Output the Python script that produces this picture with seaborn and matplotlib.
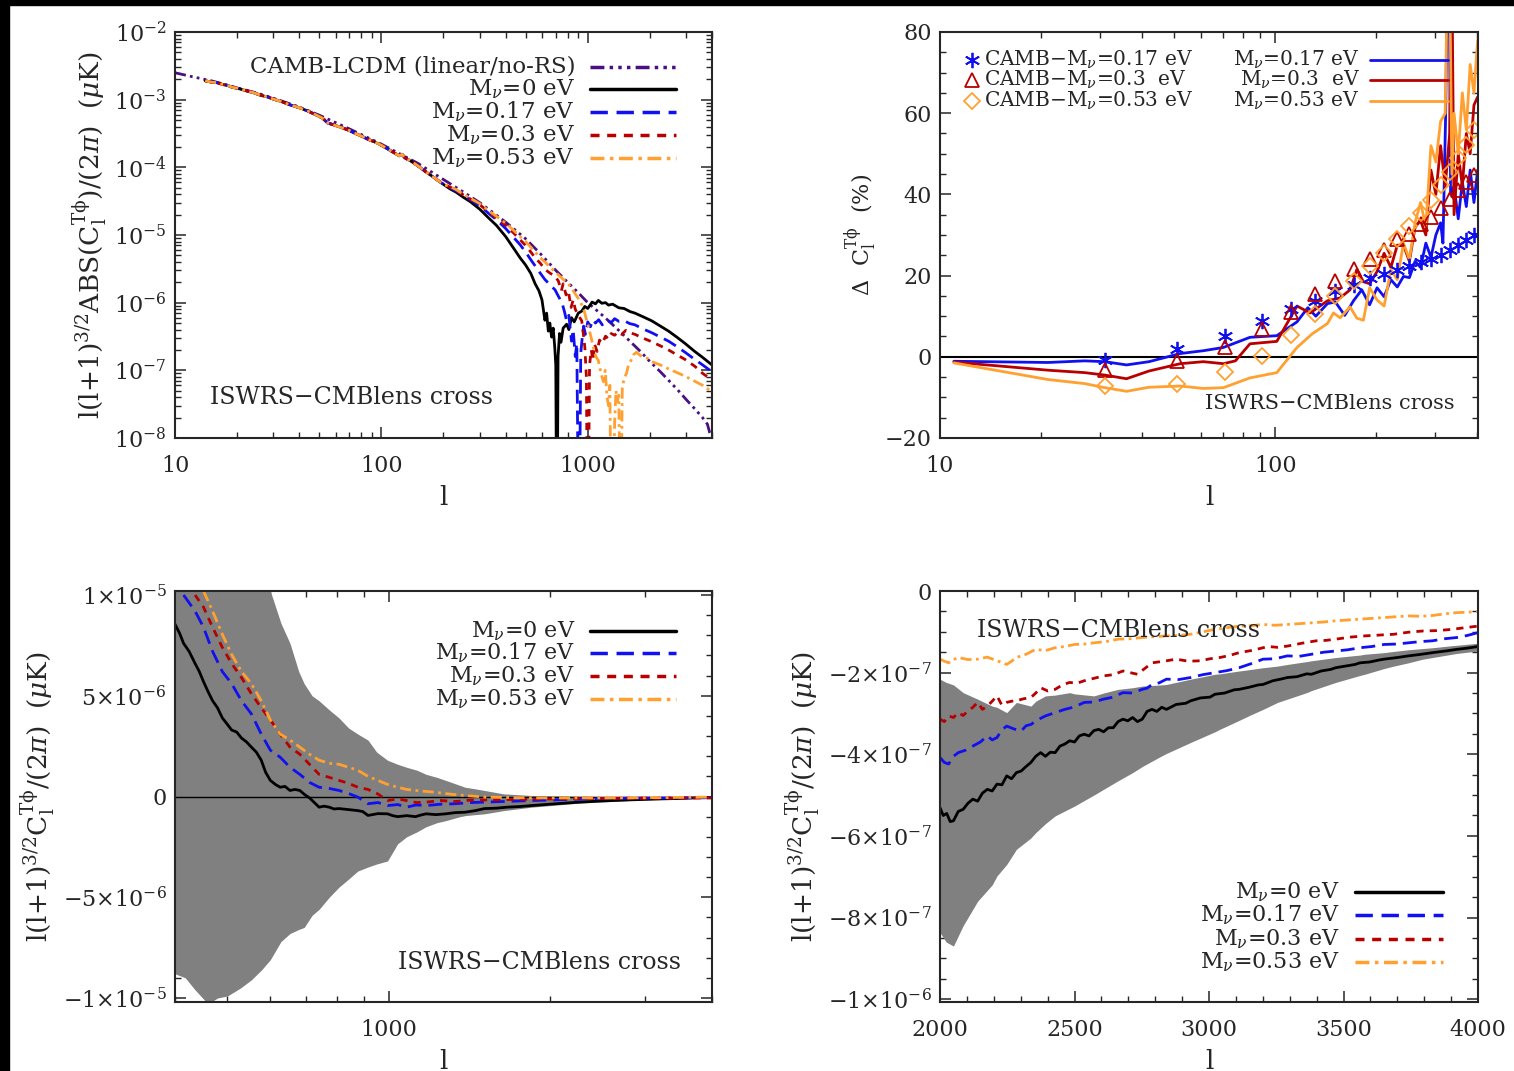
import matplotlib
matplotlib.use("Agg")
import matplotlib.pyplot as plt
import seaborn as sns
from matplotlib.lines import Line2D
from matplotlib.patches import Rectangle
from matplotlib.ticker import (FixedLocator, FixedFormatter, NullFormatter,
                               LogLocator, MultipleLocator, FuncFormatter)

# ------------------------------------------------------------------ data
series_labels = [r"M$_\nu$=0 eV", r"M$_\nu$=0.17 eV", r"M$_\nu$=0.3 eV", r"M$_\nu$=0.53 eV"]
camb_label = "CAMB-LCDM (linear/no-RS)"
annot_text = "ISWRS\u2212CMBlens cross"

# Panel A : |l(l+1)^{3/2} C_l| , log-log
camb_l = [10, 12, 15, 20, 25, 30, 40, 50, 70, 100, 150, 200, 250, 300, 400, 500, 600, 700,
          800, 900, 1000, 1200, 1400, 1600, 1800, 2000, 2250, 2500, 2750, 3000, 3300, 3600,
          3800, 3900, 4000]
camb_v = [2.5e-3, 2.2e-3, 1.9e-3, 1.5e-3, 1.25e-3, 1.05e-3, 7.8e-4, 5.9e-4, 3.7e-4, 2.2e-4,
          1.15e-4, 6.6e-5, 4.3e-5, 3.0e-5, 1.55e-5, 8.8e-6, 5.0e-6, 3.0e-6, 2.0e-6, 1.4e-6,
          1.0e-6, 6.2e-7, 4.0e-7, 2.7e-7, 1.9e-7, 1.35e-7, 9.5e-8, 6.8e-8, 5.0e-8, 3.7e-8,
          2.7e-8, 2.0e-8, 1.6e-8, 1.2e-8, 1.05e-8]

low_l = [14, 15, 16, 17, 18, 19, 20, 22, 24, 26, 28, 30, 33, 36, 40, 44, 48, 52, 55, 58, 62,
         66, 70, 75, 80, 86, 92, 100, 108, 116, 122, 126, 130, 138, 146, 155, 165, 175, 188, 200]
low_v = [1.9e-3, 1.82e-3, 1.78e-3, 1.68e-3, 1.62e-3, 1.52e-3, 1.48e-3, 1.36e-3, 1.27e-3,
         1.16e-3, 1.1e-3, 1.02e-3, 9.3e-4, 8.4e-4, 7.6e-4, 6.8e-4, 6.0e-4, 5.3e-4, 4.5e-4,
         4.3e-4, 4.0e-4, 3.75e-4, 3.5e-4, 3.15e-4, 2.9e-4, 2.6e-4, 2.4e-4, 2.12e-4, 1.85e-4,
         1.62e-4, 1.48e-4, 1.56e-4, 1.38e-4, 1.25e-4, 1.12e-4, 9.8e-5, 8.5e-5, 7.5e-5, 6.4e-5,
         5.6e-5]

m0_hi_l = [215, 230, 250, 270, 300, 330, 360, 400, 440, 470, 500, 530, 556, 580, 600, 620, 632,
           644, 655, 668, 680, 692, 700, 706, 712, 718, 730, 742, 760, 790, 810, 834, 860, 900,
           935, 968, 1000, 1050, 1090, 1125, 1170, 1220, 1261, 1320, 1414, 1500, 1600, 1694,
           1850, 2040, 2250, 2463, 2700, 2960, 3300, 3606, 4000]
m0_hi_v = [4.8e-5, 4.3e-5, 3.6e-5, 3.1e-5, 2.4e-5, 1.8e-5, 1.4e-5, 9.5e-6, 6.2e-6, 4.6e-6,
           3.6e-6, 2.7e-6, 1.9e-6, 1.5e-6, 1.1e-6, 5.5e-7, 7e-7, 3.8e-7, 5e-7, 3.1e-7, 4.2e-7,
           2.2e-7, 1.2e-7, 1e-9, 1e-9, 1.6e-7, 3.5e-7, 2.6e-7, 4.2e-7, 4.8e-7, 4e-7, 6e-7,
           5.2e-7, 7e-7, 7.5e-7, 8.8e-7, 8.2e-7, 1.02e-6, 9.6e-7, 1.08e-6, 9.8e-7, 1.0e-6,
           9.2e-7, 9.5e-7, 8.4e-7, 8.2e-7, 7.4e-7, 7e-7, 6.2e-7, 5.4e-7, 4.5e-7, 3.8e-7, 3.1e-7,
           2.5e-7, 1.9e-7, 1.55e-7, 1.2e-7]

m17_hi_l = [215, 230, 250, 270, 300, 330, 360, 400, 440, 470, 500, 530, 556, 590, 620, 660, 694,
            720, 750, 770, 790, 810, 834, 850, 870, 885, 900, 912, 925, 940, 955, 975, 1000,
            1030, 1060, 1090, 1130, 1176, 1240, 1300, 1350, 1414, 1500, 1600, 1694, 1850, 2040,
            2250, 2463, 2700, 2960, 3300, 3606, 4000]
m17_hi_v = [5e-5, 4.5e-5, 3.8e-5, 3.3e-5, 2.7e-5, 2.1e-5, 1.7e-5, 1.25e-5, 9e-6, 7.2e-6, 5.6e-6,
            4.3e-6, 3.5e-6, 2.7e-6, 2.2e-6, 1.8e-6, 1.55e-6, 1.25e-6, 1e-6, 7.5e-7, 5.4e-7,
            6.5e-7, 2.7e-7, 4e-7, 1.6e-7, 2.5e-7, 1e-9, 1e-9, 1.8e-7, 3e-7, 4.5e-7, 3.4e-7,
            5.2e-7, 4.4e-7, 5.6e-7, 5e-7, 5.6e-7, 4.7e-7, 5.5e-7, 5.1e-7, 5.8e-7, 5.3e-7,
            5.4e-7, 4.9e-7, 4.7e-7, 4.1e-7, 3.6e-7, 3.1e-7, 2.7e-7, 2.25e-7, 1.85e-7, 1.45e-7,
            1.2e-7, 9.5e-8]

m30_hi_l = [215, 230, 250, 270, 300, 330, 360, 400, 440, 470, 500, 530, 556, 590, 620, 660, 690,
            720, 745, 760, 785, 805, 830, 850, 870, 900, 935, 955, 968, 985, 995, 1008, 1020,
            1040, 1060, 1080, 1110, 1140, 1176, 1220, 1261, 1300, 1350, 1400, 1460, 1530, 1600,
            1694, 1850, 2040, 2250, 2463, 2700, 2960, 3300, 3606, 4000]
m30_hi_v = [5.1e-5, 4.6e-5, 3.9e-5, 3.4e-5, 2.8e-5, 2.2e-5, 1.8e-5, 1.4e-5, 1.05e-5, 8.5e-6,
            7e-6, 5.6e-6, 4.6e-6, 3.8e-6, 3.1e-6, 2.7e-6, 2.5e-6, 2.1e-6, 1.5e-6, 1.9e-6,
            1.3e-6, 1.5e-6, 8.5e-7, 1.1e-6, 8e-7, 6.5e-7, 5.4e-7, 3.2e-7, 2.2e-7, 8e-8, 1e-9,
            1e-9, 1.2e-7, 2e-7, 1.4e-7, 2.4e-7, 1.9e-7, 2.8e-7, 2.5e-7, 3.2e-7, 2.9e-7, 3.5e-7,
            3.3e-7, 3.7e-7, 3.4e-7, 3.9e-7, 3.6e-7, 3.4e-7, 3e-7, 2.65e-7, 2.3e-7, 2e-7, 1.7e-7,
            1.45e-7, 1.15e-7, 9e-8, 7.2e-8]

m53_hi_l = [215, 230, 250, 270, 300, 330, 360, 400, 440, 470, 500, 530, 556, 590, 620, 660, 700,
            750, 805, 850, 900, 950, 980, 1010, 1040, 1064, 1095, 1125, 1160, 1190, 1215, 1240,
            1261, 1280, 1295, 1325, 1350, 1370, 1390, 1414, 1435, 1450, 1470, 1500, 1540, 1575,
            1620, 1667, 1720, 1780, 1830, 1950, 2040, 2250, 2463, 2700, 2960, 3300, 3606, 4000]
m53_hi_v = [5.2e-5, 4.7e-5, 4e-5, 3.5e-5, 2.9e-5, 2.3e-5, 1.9e-5, 1.5e-5, 1.15e-5, 9.5e-6, 8e-6,
            6.6e-6, 5.6e-6, 4.6e-6, 4e-6, 3.3e-6, 2.8e-6, 2.3e-6, 1.9e-6, 1.5e-6, 1.15e-6,
            8.6e-7, 6e-7, 4.3e-7, 3e-7, 2.2e-7, 1.6e-7, 1.4e-7, 9e-8, 6.8e-8, 1e-7, 4e-8, 3e-8,
            6e-8, 1e-9, 1e-9, 1.7e-8, 5e-8, 3.5e-8, 4.3e-8, 1e-9, 1e-9, 5.5e-8, 7.6e-8, 9e-8,
            1.2e-7, 1.4e-7, 1.7e-7, 1.85e-7, 1.7e-7, 1.6e-7, 1.5e-7, 1.35e-7, 1.2e-7, 1.05e-7,
            9.3e-8, 8.2e-8, 6.9e-8, 6e-8, 4.8e-8]

# Panel B : Delta C_l (%)
camb_pts_l = [31, 51, 71, 91, 111, 131, 151, 171, 191, 211, 231, 251, 271, 291, 311, 331, 351,
              371, 391]
camb17_pct = [-0.7, 2.0, 5.2, 8.7, 11.7, 13.7, 16.3, 17.8, 19.4, 20.4, 21.3, 22.3, 23.3, 24.1,
              25.1, 26.3, 27.6, 28.8, 30.0]
camb30_pct = [-3.3, -1.1, 2.4, 6.8, 11.1, 15.4, 18.6, 21.7, 24.1, 26.2, 28.9, 30.2, 32.6, 34.5,
              36.7, 38.8, 41.0, 43.0, 44.9]
camb53_pct = [-7.2, -6.6, -3.7, 0.3, 5.4, 10.5, 15.0, 18.6, 22.3, 25.5, 29.0, 32.3, 35.5, 38.7,
              42.2, 45.4, 48.9, 52.2, 55.9]

d17_l = [11, 21, 27, 31, 36, 42, 52, 61, 70, 84, 101, 116, 125, 132, 143, 151, 161, 171, 181,
         191, 201, 211, 221, 231, 241, 251, 261, 271, 281, 291, 301, 311, 316, 322, 326, 330,
         333, 341, 351, 361, 371, 381, 391, 401]
d17_v = [-1.1, -1.4, -1.0, -1.2, -2.0, -1.2, 0.8, 1.5, 2.3, 4.8, 5.2, 8.6, 12.1, 10.0, 13.1,
         13.5, 10.2, 13.8, 16.5, 12.8, 17.0, 14.8, 19.0, 17.2, 19.8, 19.5, 23.5, 22.0, 28.0,
         24.5, 30.0, 33.0, 28.0, 60.0, 95.0, 95.0, 40.0, 42.0, 34.0, 43.0, 37.0, 46.0, 38.0,
         46.0]
d30_l = [11, 21, 27, 31, 36, 42, 52, 61, 70, 76, 84, 101, 116, 127, 143, 156, 167, 175, 183,
         191, 201, 211, 221, 231, 241, 251, 261, 271, 281, 291, 301, 311, 321, 331, 336, 341,
         351, 361, 371, 381, 391, 401]
d30_v = [-1.3, -3.3, -3.9, -4.5, -5.4, -3.5, -1.7, -1.2, -1.7, -1.0, 3.2, 3.8, 12.5, 10.8,
         13.8, 14.5, 16.5, 21.5, 18.5, 18.0, 21.0, 25.5, 22.0, 27.5, 27.5, 23.5, 32.0, 33.5,
         30.0, 46.0, 40.0, 52.0, 42.0, 55.0, 95.0, 35.0, 50.0, 42.0, 55.0, 50.0, 62.0, 64.0]
d53_l = [11, 21, 27, 31, 36, 42, 52, 61, 70, 84, 101, 116, 129, 143, 149, 156, 167, 175, 183,
         191, 201, 211, 221, 231, 241, 251, 261, 271, 281, 291, 301, 311, 321, 326, 331, 336,
         341, 351, 361, 371, 381, 391, 401]
d53_v = [-1.5, -5.6, -6.6, -7.6, -8.5, -7.5, -7.2, -7.8, -7.6, -5.2, -3.9, 2.3, 5.7, 8.2, 10.8,
         9.6, 12.3, 9.5, 9.0, 17.0, 14.0, 12.5, 21.5, 19.0, 28.0, 24.0, 33.0, 38.0, 32.0, 52.0,
         48.0, 58.0, 60.0, 95.0, 95.0, 45.0, 60.0, 50.0, 65.0, 56.0, 72.0, 65.0, 78.0]
pct_labels_camb = [r"CAMB$-$M$_\nu$=0.17 eV", r"CAMB$-$M$_\nu$=0.3  eV", r"CAMB$-$M$_\nu$=0.53 eV"]
pct_labels_sim = [r"M$_\nu$=0.17 eV", r"M$_\nu$=0.3  eV", r"M$_\nu$=0.53 eV"]

# Panel C : signed spectrum, 400 < l < 4000
c_band_l = [400, 418, 436, 461, 480, 501, 530, 555, 580, 602, 630, 655, 680, 696, 720, 742, 775,
            808, 842, 876, 915, 950, 995, 1039, 1080, 1130, 1174, 1230, 1277, 1358, 1388, 1450,
            1508, 1638, 1845, 2264, 2797, 3447, 4000]
c_band_hi = [1.6e-5, 1.58e-5, 1.55e-5, 1.5e-5, 1.45e-5, 1.4e-5, 1.32e-5, 1.25e-5, 1.12e-5,
             1.02e-5, 8.6e-6, 7.6e-6, 6.2e-6, 5.6e-6, 5.0e-6, 4.75e-6, 4.3e-6, 3.9e-6, 3.4e-6,
             3.1e-6, 2.8e-6, 2.2e-6, 1.8e-6, 1.6e-6, 1.45e-6, 1.3e-6, 1.1e-6, 0.95e-6, 0.8e-6,
             0.55e-6, 0.46e-6, 0.38e-6, 0.3e-6, 0.13e-6, 0.05e-6, 0.02e-6, 0.0, -0.02e-6,
             -0.03e-6]
c_band_lo = [-8.8e-6, -9.0e-6, -9.6e-6, -1.03e-5, -1.0e-5, -9.9e-6, -9.5e-6, -9.1e-6, -8.6e-6,
             -8.1e-6, -7.2e-6, -6.8e-6, -6.6e-6, -6.5e-6, -5.9e-6, -5.6e-6, -5.0e-6, -4.5e-6,
             -4.1e-6, -3.7e-6, -3.5e-6, -3.35e-6, -3.2e-6, -2.35e-6, -2.0e-6, -1.75e-6, -1.5e-6,
             -1.3e-6, -1.2e-6, -1.0e-6, -0.95e-6, -0.9e-6, -0.86e-6, -0.7e-6, -0.53e-6,
             -0.33e-6, -0.2e-6, -0.12e-6, -0.07e-6]
c_m0_l = [400, 408, 415, 425, 436, 444, 452, 461, 470, 480, 490, 500, 510, 521, 532, 544, 555,
          567, 579, 590, 602, 615, 628, 641, 655, 669, 683, 697, 712, 727, 742, 758, 775, 791,
          808, 842, 876, 895, 915, 955, 995, 1017, 1039, 1080, 1122, 1148, 1174, 1225, 1277,
          1330, 1388, 1450, 1508, 1585, 1661, 1750, 1845, 2050, 2264, 2500, 2797, 3100, 3447,
          3700, 4000]
c_m0_v = [8.55e-6, 8.1e-6, 7.6e-6, 7.2e-6, 6.6e-6, 6.2e-6, 5.7e-6, 5.2e-6, 4.75e-6, 4.4e-6,
          3.9e-6, 3.6e-6, 3.3e-6, 3.2e-6, 2.9e-6, 2.7e-6, 2.45e-6, 2.2e-6, 1.8e-6, 1.2e-6,
          0.8e-6, 0.6e-6, 0.46e-6, 0.5e-6, 0.3e-6, 0.35e-6, 0.3e-6, 0.1e-6, -0.07e-6, -0.3e-6,
          -0.53e-6, -0.48e-6, -0.53e-6, -0.62e-6, -0.6e-6, -0.65e-6, -0.7e-6, -0.75e-6,
          -0.94e-6, -0.85e-6, -0.86e-6, -0.95e-6, -1.0e-6, -0.95e-6, -1.0e-6, -0.92e-6,
          -0.86e-6, -0.9e-6, -0.86e-6, -0.8e-6, -0.78e-6, -0.7e-6, -0.6e-6, -0.58e-6, -0.53e-6,
          -0.5e-6, -0.45e-6, -0.36e-6, -0.28e-6, -0.22e-6, -0.17e-6, -0.13e-6, -0.1e-6,
          -0.07e-6, -0.05e-6]
c_m17_l = [415, 436, 452, 470, 490, 510, 532, 555, 579, 602, 628, 655, 683, 712, 742, 775, 808,
           842, 876, 915, 955, 995, 1040, 1080, 1125, 1174, 1250, 1330, 1420, 1508, 1845, 2264,
           2797, 4000]
c_m17_v = [1.0e-5, 9.2e-6, 8.4e-6, 7.2e-6, 6.2e-6, 5.6e-6, 4.75e-6, 4.1e-6, 3.1e-6, 2.3e-6,
           1.95e-6, 1.45e-6, 1.1e-6, 0.7e-6, 0.46e-6, 0.4e-6, 0.3e-6, 0.15e-6, -0.03e-6,
           -0.36e-6, -0.3e-6, -0.45e-6, -0.4e-6, -0.53e-6, -0.42e-6, -0.45e-6, -0.38e-6,
           -0.36e-6, -0.3e-6, -0.28e-6, -0.2e-6, -0.13e-6, -0.08e-6, -0.06e-6]
c_m30_l = [436, 452, 470, 490, 510, 532, 555, 579, 602, 628, 655, 683, 712, 742, 775, 808, 842,
           876, 915, 954, 995, 1040, 1080, 1125, 1174, 1250, 1330, 1420, 1508, 1845, 2264, 4000]
c_m30_v = [1.0e-5, 9.4e-6, 8.4e-6, 7.4e-6, 6.6e-6, 5.9e-6, 5.1e-6, 4.4e-6, 3.8e-6, 3.1e-6,
           2.45e-6, 2.1e-6, 1.6e-6, 1.1e-6, 0.95e-6, 0.8e-6, 0.65e-6, 0.46e-6, 0.35e-6, 0.13e-6,
           -0.2e-6, -0.12e-6, -0.2e-6, -0.3e-6, -0.28e-6, -0.2e-6, -0.25e-6, -0.18e-6, -0.17e-6,
           -0.13e-6, -0.1e-6, -0.07e-6]
c_m53_l = [452, 470, 490, 510, 532, 555, 579, 602, 628, 655, 683, 712, 742, 775, 808, 842, 876,
           915, 954, 995, 1039, 1080, 1122, 1174, 1222, 1300, 1388, 1508, 1845, 2797, 4000]
c_m53_v = [1.02e-5, 9.2e-6, 8.05e-6, 7.05e-6, 6.2e-6, 5.6e-6, 4.75e-6, 3.8e-6, 3.1e-6, 2.8e-6,
           2.45e-6, 2.1e-6, 1.8e-6, 1.65e-6, 1.6e-6, 1.45e-6, 1.3e-6, 1.0e-6, 0.8e-6, 0.6e-6,
           0.46e-6, 0.35e-6, 0.3e-6, 0.25e-6, 0.21e-6, 0.12e-6, 0.05e-6, -0.03e-6, -0.07e-6,
           -0.07e-6, -0.03e-6]
c_yticks = [-1e-5, -5e-6, 0, 5e-6, 1e-5]
c_yticklabels = [r"$-1{\times}10^{-5}$", r"$-5{\times}10^{-6}$", "0", r"$5{\times}10^{-6}$",
                 r"$1{\times}10^{-5}$"]

# Panel D : signed spectrum, 2000 < l < 4000
d_band_l = [2000, 2023, 2050, 2086, 2140, 2194, 2212, 2248, 2284, 2338, 2356, 2392, 2428, 2482,
            2500, 2572, 2608, 2662, 2716, 2752, 2824, 2842, 2932, 3022, 3040, 3112, 3147, 3201,
            3255, 3291, 3363, 3381, 3471, 3561, 3579, 3651, 3687, 3741, 3795, 3831, 3903, 3921,
            4000]
d_band_hi = [-2.16e-7, -2.24e-7, -2.3e-7, -2.49e-7, -2.65e-7, -2.82e-7, -2.85e-7, -2.98e-7,
             -2.73e-7, -2.82e-7, -2.7e-7, -2.57e-7, -2.55e-7, -2.49e-7, -2.52e-7, -2.57e-7,
             -2.5e-7, -2.41e-7, -2.37e-7, -2.33e-7, -2.3e-7, -2.29e-7, -2.16e-7, -2.04e-7,
             -2.03e-7, -1.96e-7, -1.93e-7, -1.88e-7, -1.84e-7, -1.8e-7, -1.73e-7, -1.71e-7,
             -1.63e-7, -1.57e-7, -1.55e-7, -1.51e-7, -1.48e-7, -1.44e-7, -1.41e-7, -1.39e-7,
             -1.34e-7, -1.33e-7, -1.28e-7]
d_band_lo = [-8.37e-7, -8.6e-7, -8.7e-7, -8.2e-7, -7.6e-7, -7.2e-7, -6.98e-7, -6.7e-7,
             -6.33e-7, -6.05e-7, -5.92e-7, -5.7e-7, -5.51e-7, -5.33e-7, -5.27e-7, -5.0e-7,
             -4.86e-7, -4.65e-7, -4.45e-7, -4.3e-7, -4.04e-7, -3.98e-7, -3.71e-7, -3.45e-7,
             -3.39e-7, -3.17e-7, -3.06e-7, -2.9e-7, -2.73e-7, -2.65e-7, -2.49e-7, -2.44e-7,
             -2.24e-7, -2.07e-7, -2.04e-7, -1.9e-7, -1.84e-7, -1.76e-7, -1.67e-7, -1.63e-7,
             -1.55e-7, -1.53e-7, -1.47e-7]
d_m0_l = [2000, 2012, 2025, 2038, 2050, 2068, 2086, 2104, 2122, 2140, 2158, 2176, 2194, 2212,
          2230, 2248, 2266, 2284, 2302, 2320, 2338, 2356, 2374, 2392, 2410, 2428, 2446, 2464,
          2482, 2500, 2518, 2536, 2554, 2572, 2590, 2608, 2626, 2644, 2662, 2680, 2698, 2716,
          2734, 2752, 2770, 2788, 2806, 2824, 2842, 2878, 2914, 2932, 2968, 3004, 3022, 3058,
          3094, 3112, 3148, 3184, 3201, 3237, 3273, 3291, 3327, 3363, 3381, 3417, 3453, 3471,
          3507, 3543, 3561, 3597, 3633, 3651, 3700, 3741, 3790, 3831, 3880, 3921, 3960, 4000]
d_m0_v = [-5.31e-7, -5.5e-7, -5.45e-7, -5.65e-7, -5.63e-7, -5.4e-7, -5.35e-7, -5.2e-7, -5.1e-7,
          -5.15e-7, -4.95e-7, -4.86e-7, -4.9e-7, -4.73e-7, -4.75e-7, -4.53e-7, -4.6e-7,
          -4.45e-7, -4.41e-7, -4.3e-7, -4.2e-7, -4.05e-7, -3.96e-7, -4.05e-7, -3.95e-7,
          -3.96e-7, -3.8e-7, -3.75e-7, -3.67e-7, -3.7e-7, -3.55e-7, -3.51e-7, -3.55e-7,
          -3.42e-7, -3.39e-7, -3.45e-7, -3.35e-7, -3.35e-7, -3.2e-7, -3.14e-7, -3.18e-7,
          -3.1e-7, -3.2e-7, -3.14e-7, -2.95e-7, -2.9e-7, -2.95e-7, -2.85e-7, -2.9e-7, -2.78e-7,
          -2.75e-7, -2.69e-7, -2.62e-7, -2.6e-7, -2.53e-7, -2.5e-7, -2.42e-7, -2.41e-7,
          -2.36e-7, -2.3e-7, -2.29e-7, -2.2e-7, -2.15e-7, -2.12e-7, -2.1e-7, -2.03e-7, -2.04e-7,
          -1.96e-7, -1.92e-7, -1.88e-7, -1.84e-7, -1.8e-7, -1.76e-7, -1.74e-7, -1.69e-7,
          -1.67e-7, -1.63e-7, -1.59e-7, -1.55e-7, -1.51e-7, -1.47e-7, -1.43e-7, -1.4e-7,
          -1.36e-7]
d_m17_l = [2000, 2016, 2032, 2050, 2068, 2095, 2122, 2150, 2176, 2194, 2212, 2230, 2248, 2275,
           2302, 2320, 2338, 2365, 2392, 2428, 2464, 2500, 2536, 2572, 2608, 2644, 2680, 2716,
           2752, 2770, 2788, 2815, 2842, 2887, 2932, 2977, 3022, 3067, 3112, 3157, 3201, 3246,
           3291, 3336, 3381, 3426, 3471, 3516, 3561, 3606, 3651, 3696, 3741, 3786, 3831, 3876,
           3921, 3960, 4000]
d_m17_v = [-4.08e-7, -4.2e-7, -4.24e-7, -4.05e-7, -3.96e-7, -3.9e-7, -3.8e-7, -3.7e-7,
           -3.55e-7, -3.65e-7, -3.59e-7, -3.4e-7, -3.31e-7, -3.38e-7, -3.43e-7, -3.3e-7,
           -3.27e-7, -3.15e-7, -3.06e-7, -2.98e-7, -2.9e-7, -2.84e-7, -2.73e-7, -2.72e-7,
           -2.65e-7, -2.6e-7, -2.49e-7, -2.5e-7, -2.41e-7, -2.38e-7, -2.29e-7, -2.25e-7,
           -2.16e-7, -2.17e-7, -2.12e-7, -2.05e-7, -2.0e-7, -1.95e-7, -1.88e-7, -1.78e-7,
           -1.67e-7, -1.66e-7, -1.59e-7, -1.6e-7, -1.55e-7, -1.5e-7, -1.47e-7, -1.44e-7,
           -1.39e-7, -1.36e-7, -1.31e-7, -1.3e-7, -1.27e-7, -1.24e-7, -1.22e-7, -1.17e-7,
           -1.14e-7, -1.09e-7, -1.02e-7]
d_m30_l = [2000, 2016, 2032, 2050, 2068, 2086, 2104, 2122, 2140, 2158, 2176, 2194, 2212, 2230,
           2248, 2266, 2284, 2311, 2338, 2356, 2374, 2401, 2428, 2455, 2482, 2509, 2536, 2572,
           2608, 2644, 2680, 2707, 2734, 2761, 2788, 2833, 2878, 2923, 2968, 3004, 3040, 3076,
           3112, 3165, 3219, 3255, 3291, 3345, 3399, 3435, 3471, 3525, 3579, 3633, 3687, 3741,
           3795, 3849, 3903, 3950, 4000]
d_m30_v = [-3.14e-7, -3.2e-7, -3.06e-7, -3.1e-7, -2.98e-7, -3.05e-7, -2.94e-7, -2.85e-7,
           -2.73e-7, -2.9e-7, -2.82e-7, -2.7e-7, -2.57e-7, -2.8e-7, -2.73e-7, -2.7e-7,
           -2.69e-7, -2.64e-7, -2.61e-7, -2.5e-7, -2.37e-7, -2.45e-7, -2.41e-7, -2.3e-7,
           -2.24e-7, -2.26e-7, -2.2e-7, -2.14e-7, -2.08e-7, -2.05e-7, -1.96e-7, -2.0e-7,
           -2.04e-7, -1.9e-7, -1.76e-7, -1.72e-7, -1.67e-7, -1.72e-7, -1.71e-7, -1.66e-7,
           -1.63e-7, -1.58e-7, -1.51e-7, -1.45e-7, -1.36e-7, -1.38e-7, -1.35e-7, -1.28e-7,
           -1.22e-7, -1.21e-7, -1.18e-7, -1.13e-7, -1.1e-7, -1.08e-7, -1.06e-7, -1.01e-7,
           -0.98e-7, -0.97e-7, -0.94e-7, -0.9e-7, -0.86e-7]
d_m53_l = [2000, 2016, 2032, 2050, 2068, 2104, 2140, 2176, 2212, 2230, 2248, 2266, 2284, 2320,
           2356, 2392, 2428, 2464, 2500, 2536, 2572, 2617, 2662, 2707, 2752, 2797, 2842, 2887,
           2932, 2977, 3022, 3067, 3112, 3157, 3201, 3246, 3291, 3336, 3381, 3426, 3471, 3516,
           3561, 3606, 3651, 3696, 3741, 3786, 3831, 3876, 3921, 3960, 4000]
d_m53_v = [-1.67e-7, -1.72e-7, -1.76e-7, -1.68e-7, -1.63e-7, -1.68e-7, -1.67e-7, -1.62e-7,
           -1.71e-7, -1.75e-7, -1.8e-7, -1.72e-7, -1.63e-7, -1.55e-7, -1.43e-7, -1.46e-7,
           -1.39e-7, -1.36e-7, -1.31e-7, -1.3e-7, -1.27e-7, -1.24e-7, -1.18e-7, -1.17e-7,
           -1.14e-7, -1.12e-7, -1.1e-7, -1.09e-7, -1.06e-7, -1.0e-7, -0.94e-7, -0.9e-7,
           -0.86e-7, -0.85e-7, -0.82e-7, -0.84e-7, -0.82e-7, -0.8e-7, -0.78e-7, -0.76e-7,
           -0.73e-7, -0.71e-7, -0.69e-7, -0.67e-7, -0.65e-7, -0.63e-7, -0.61e-7, -0.62e-7,
           -0.6e-7, -0.56e-7, -0.53e-7, -0.52e-7, -0.5e-7]
d_yticks = [-1e-6, -8e-7, -6e-7, -4e-7, -2e-7, 0]
d_yticklabels = [r"$-1{\times}10^{-6}$", r"$-8{\times}10^{-7}$", r"$-6{\times}10^{-7}$",
                 r"$-4{\times}10^{-7}$", r"$-2{\times}10^{-7}$", "0"]

# ------------------------------------------------------------------ style
sns.set_style("ticks")
plt.rcParams.update({
    "font.family": ["DejaVu Serif"],
    "mathtext.fontset": "dejavuserif",
    "font.size": 16,
    "axes.linewidth": 1.5,
    "xtick.direction": "in", "ytick.direction": "in",
    "xtick.top": True, "ytick.right": True,
    "xtick.major.size": 8, "ytick.major.size": 8,
    "xtick.minor.size": 4, "ytick.minor.size": 4,
    "xtick.major.width": 1.1, "ytick.major.width": 1.1,
    "xtick.minor.width": 1.0, "ytick.minor.width": 1.0,
    "xtick.major.pad": 12, "ytick.major.pad": 6,
    "xtick.labelsize": 16, "ytick.labelsize": 16,
    "axes.labelsize": 19,
})

BLACK, BLUE, RED, ORANGE, PURPLE = "#000000", "#1010f0", "#b80000", "#ffa030", "#4a0f80"
GREY = "#808080"
styles = [
    dict(color=BLACK, lw=2.0, linestyle="-"),
    dict(color=BLUE, lw=2.0, linestyle=(0, (5, 2.5))),
    dict(color=RED, lw=2.0, linestyle=(0, (2.6, 2.2))),
    dict(color=ORANGE, lw=2.0, linestyle=(0, (4, 1.6, 1, 1.6))),
]
camb_style = dict(color=PURPLE, lw=2.0, linestyle=(0, (4, 1.5, 1, 1.5, 1, 1.5, 1, 1.5)))

fig = plt.figure(figsize=(15.14, 10.71), dpi=100)
fig.patch.set_facecolor("white")
W, H = 1514, 1071


def add_ax(x0, x1, y0, y1):
    return fig.add_axes([x0 / W, 1 - y1 / H, (x1 - x0) / W, (y1 - y0) / H])


axA = add_ax(175, 712, 32, 438)
axB = add_ax(940, 1478, 32, 438)
axC = add_ax(175, 712, 591, 1002)
axD = add_ax(940, 1478, 591, 1002)


def line(ax, x, y, st, **kw):
    d = dict(st)
    d.update(kw)
    sns.lineplot(x=x, y=y, ax=ax, estimator=None, sort=False, legend=False, **d)


def manual_legend(ax, labels, sts, xt, x0, x1, ys, fs=16):
    for lab, st, y in zip(labels, sts, ys):
        ax.text(xt, y, lab, transform=ax.transAxes, ha="right", va="center", fontsize=fs)
        ax.add_line(Line2D([x0, x1], [y, y], transform=ax.transAxes, **st))


# ---- Panel A
axA.set_xscale("log")
axA.set_yscale("log")
line(axA, camb_l, camb_v, camb_style)
for hl, hv, st in zip([m0_hi_l, m17_hi_l, m30_hi_l, m53_hi_l],
                      [m0_hi_v, m17_hi_v, m30_hi_v, m53_hi_v], styles):
    line(axA, low_l + hl, low_v + hv, st)
axA.set_xlim(10, 4000)
axA.set_ylim(1e-8, 1e-2)
axA.xaxis.set_major_formatter(FuncFormatter(lambda v, p: f"{v:g}"))
axA.yaxis.set_major_locator(LogLocator(base=10, numticks=20))
axA.yaxis.set_minor_locator(LogLocator(base=10, subs=range(2, 10), numticks=100))
axA.yaxis.set_minor_formatter(NullFormatter())
axA.xaxis.set_minor_formatter(NullFormatter())
axA.set_xlabel("l")
axA.set_ylabel(r"l(l+1)$^{3/2}$ABS(C$_\mathrm{l}^\mathrm{T\phi}$)/(2$\pi$)  ($\mu$K)")
axA.text(0.065, 0.10, annot_text, transform=axA.transAxes, fontsize=17, va="center")
leg_st = [dict(camb_style, lw=2.5)] + [dict(s, lw=2.5) for s in styles]
manual_legend(axA, [camb_label] + series_labels, leg_st, 0.745, 0.773, 0.933,
              [0.914, 0.860, 0.803, 0.746, 0.690], fs=16.5)

# ---- Panel B
axB.set_xscale("log")
axB.axhline(0, color="black", lw=1.5)
for x, y, st in zip([d17_l, d30_l, d53_l], [d17_v, d30_v, d53_v],
                    [dict(color=BLUE, lw=2.0), dict(color=RED, lw=2.0), dict(color=ORANGE, lw=2.0)]):
    line(axB, x, y, st)
mk = [dict(marker=(6, 2, 0), ms=11, mec=BLUE, mfc="none", mew=1.3, color=BLUE),
      dict(marker="^", ms=10, mec=RED, mfc="none", mew=1.3, color=RED),
      dict(marker="D", ms=8, mec=ORANGE, mfc="none", mew=1.3, color=ORANGE)]
for yv, m in zip([camb17_pct, camb30_pct, camb53_pct], mk):
    sns.lineplot(x=camb_pts_l, y=yv, ax=axB, estimator=None, sort=False, legend=False,
                 linestyle="none", **m)
axB.set_xlim(10, 402)
axB.set_ylim(-20, 80)
axB.yaxis.set_major_locator(MultipleLocator(20))
axB.yaxis.set_minor_locator(MultipleLocator(5))
axB.xaxis.set_major_formatter(FuncFormatter(lambda v, p: f"{v:g}"))
axB.xaxis.set_minor_formatter(NullFormatter())
axB.set_xlabel("l")
axB.set_ylabel(r"$\Delta$  C$_\mathrm{l}^\mathrm{T\phi}$  (%)", fontsize=16)
axB.text(0.493, 0.086, annot_text, transform=axB.transAxes, fontsize=15, va="center")
for lab, m, y in zip(pct_labels_camb, mk, [0.931, 0.882, 0.830]):
    axB.add_line(Line2D([0.059], [y], transform=axB.transAxes, linestyle="none", **m))
    axB.text(0.082, y, lab, transform=axB.transAxes, ha="left", va="center", fontsize=14.5)
manual_legend(axB, pct_labels_sim,
              [dict(color=BLUE, lw=2), dict(color=RED, lw=2), dict(color=ORANGE, lw=2)],
              0.781, 0.799, 0.944, [0.931, 0.882, 0.830], fs=14.5)

# ---- Panel C
axC.set_xscale("log")
axC.fill_between(c_band_l, c_band_lo, c_band_hi, color=GREY, lw=0)
axC.axhline(0, color="black", lw=1.0)
for x, y, st in zip([c_m0_l, c_m17_l, c_m30_l, c_m53_l],
                    [c_m0_v, c_m17_v, c_m30_v, c_m53_v], styles):
    line(axC, x, y, st)
axC.set_xlim(400, 4000)
axC.set_ylim(-1.02e-5, 1.02e-5)
axC.yaxis.set_major_locator(FixedLocator(c_yticks))
axC.yaxis.set_major_formatter(FixedFormatter(c_yticklabels))
axC.yaxis.set_minor_locator(MultipleLocator(1e-6))
axC.xaxis.set_major_formatter(FuncFormatter(lambda v, p: f"{v:g}"))
axC.xaxis.set_minor_formatter(NullFormatter())
axC.set_xlabel("l")
axC.set_ylabel(r"l(l+1)$^{3/2}$C$_\mathrm{l}^\mathrm{T\phi}$/(2$\pi$)  ($\mu$K)")
axC.text(0.415, 0.097, annot_text, transform=axC.transAxes, fontsize=17, va="center")
manual_legend(axC, series_labels, [dict(s, lw=2.5) for s in styles], 0.745, 0.773, 0.933,
              [0.903, 0.849, 0.793, 0.737])

# ---- Panel D
axD.fill_between(d_band_l, d_band_lo, d_band_hi, color=GREY, lw=0)
for x, y, st in zip([d_m0_l, d_m17_l, d_m30_l, d_m53_l],
                    [d_m0_v, d_m17_v, d_m30_v, d_m53_v], styles):
    line(axD, x, y, st)
axD.set_xlim(2000, 4000)
axD.set_ylim(-1.007e-6, 0)
axD.xaxis.set_major_locator(MultipleLocator(500))
axD.xaxis.set_minor_locator(MultipleLocator(100))
axD.yaxis.set_major_locator(FixedLocator(d_yticks))
axD.yaxis.set_major_formatter(FixedFormatter(d_yticklabels))
axD.yaxis.set_minor_locator(MultipleLocator(5e-8))
axD.set_xlabel("l")
axD.set_ylabel(r"l(l+1)$^{3/2}$C$_\mathrm{l}^\mathrm{T\phi}$/(2$\pi$)  ($\mu$K)")
axD.text(0.069, 0.905, annot_text, transform=axD.transAxes, fontsize=17, va="center")
manual_legend(axD, series_labels, [dict(s, lw=2.5) for s in styles], 0.743, 0.771, 0.935,
              [0.268, 0.212, 0.153, 0.097])

for ax in (axA, axB, axC, axD):
    ax.tick_params(which="both", top=True, right=True, direction="in")
    for s in ax.spines.values():
        s.set_visible(True)
        s.set_linewidth(1.5)
    ax.xaxis.labelpad = 6

# black scan border
fig.patches.append(Rectangle((0, 1 - 5 / H), 1, 5 / H, transform=fig.transFigure,
                             color="black", zorder=10))
fig.patches.append(Rectangle((0, 0), 9 / W, 1, transform=fig.transFigure,
                             color="black", zorder=10))

fig.savefig("out.png", dpi=100, facecolor="white")
